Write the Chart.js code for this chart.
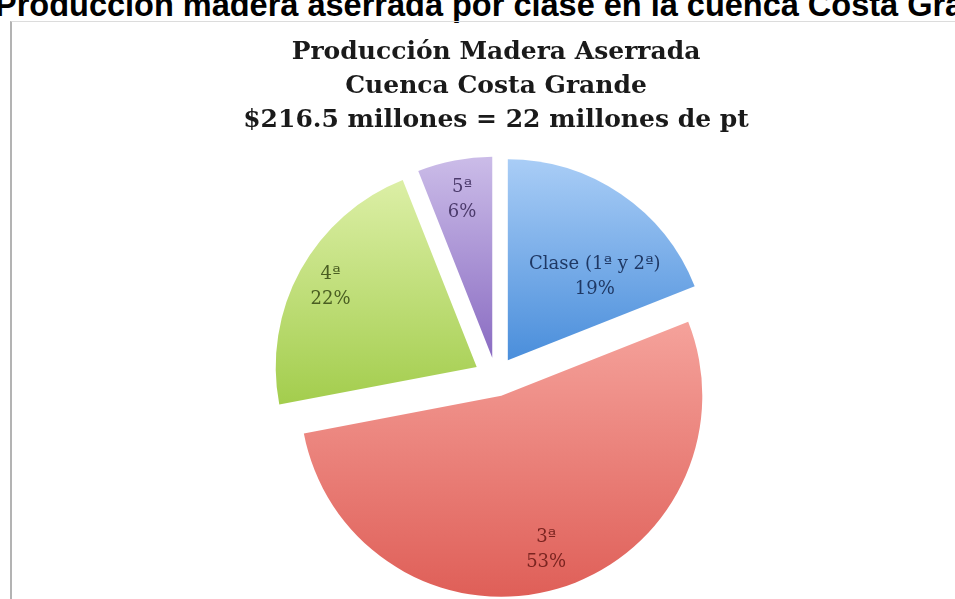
<!DOCTYPE html>
<html lang="es">
<head>
<meta charset="utf-8">
<title>Producción madera aserrada por clase</title>
<script src="https://cdn.jsdelivr.net/npm/chart.js@4.4.1/dist/chart.umd.min.js"></script>
<style>
  html, body { margin: 0; padding: 0; background: #fff; overflow: hidden; width: 955px; height: 599px; }
  .heading {
    position: absolute; left: -5px; top: -11px; margin: 0;
    font: bold 32.5px "Liberation Sans", Arial, sans-serif; line-height: 32px;
    color: #000; white-space: nowrap;
  }
  .frame {
    position: absolute; left: 10px; top: 21px; width: 960px; height: 600px;
    border-left: 2px solid #b3b3b3; border-top: 1px solid #dcdcdc;
  }
  #pieChart { position: absolute; left: 10px; top: 21px; }
</style>
</head>
<body>
<div class="heading">Producción madera aserrada por clase en la cuenca Costa Grande</div>
<div class="frame"></div>
<canvas id="pieChart" width="945" height="620"></canvas>

<script>
/* --- DATA --- */
const categories = ['Clase (1ª y 2ª)', '3ª', '4ª', '5ª'];
const shares = [19, 53, 22, 6];
const titleLines = ['Producción Madera Aserrada', 'Cuenca Costa Grande', '$216.5 millones = 22 millones de pt'];

/* --- STYLE --- */
const topColors = ['#a9cdf6', '#f5a29b', '#dcefa6', '#cbbce8'];
const bottomColors = ['#4a8edb', '#df5f58', '#a3cd4d', '#8a6cc2'];
const labelColors = ['#1f3864', '#7a2420', '#4a5e22', '#4b3a6b'];
const explode = [21, 19, 22, 20];       // px each slice is pulled out
const labelDist = [0.6, 0.8, 0.83, 0.8]; // fraction of radius from slice tip
const labelTurn = [12, 0, 0, 0];        // degrees off the slice bisector

// slice extent (vertical) in the pie's own frame, for the gradient
function sliceSpan(arc) {
  let top = arc.y, bottom = arc.y;
  const steps = 40;
  for (let i = 0; i <= steps; i++) {
    const a = arc.startAngle + (arc.endAngle - arc.startAngle) * i / steps;
    const y = arc.y + Math.sin(a) * arc.outerRadius;
    top = Math.min(top, y); bottom = Math.max(bottom, y);
  }
  return { top, bottom };
}

/* --- PLUGINS --- */
const explodedPie = {
  id: 'explodedPie',
  beforeDatasetDraw(chart, args) {
    const ctx = chart.ctx;
    args.meta.data.forEach((arc, i) => {
      const mid = (arc.startAngle + arc.endAngle) / 2;
      const span = sliceSpan(arc);
      const grad = ctx.createLinearGradient(0, span.top, 0, span.bottom);
      grad.addColorStop(0, topColors[i]);
      grad.addColorStop(1, bottomColors[i]);
      const piece = Object.create(arc);
      piece.options = Object.assign({}, arc.options, { backgroundColor: grad });
      ctx.save();
      ctx.translate(Math.cos(mid) * explode[i], Math.sin(mid) * explode[i]);
      piece.draw(ctx);
      ctx.restore();
    });
    return false;
  },
  afterDraw(chart) {
    const ctx = chart.ctx;
    const meta = chart.getDatasetMeta(0);
    ctx.save();
    ctx.font = '18px "DejaVu Serif", "Liberation Serif", serif';
    ctx.textAlign = 'center';
    ctx.textBaseline = 'middle';
    meta.data.forEach((arc, i) => {
      const mid = (arc.startAngle + arc.endAngle) / 2;
      const tipX = arc.x + Math.cos(mid) * explode[i];
      const tipY = arc.y + Math.sin(mid) * explode[i];
      const a = mid + labelTurn[i] * Math.PI / 180;
      const d = labelDist[i] * arc.outerRadius;
      const x = tipX + Math.cos(a) * d;
      const y = tipY + Math.sin(a) * d;
      ctx.fillStyle = labelColors[i];
      ctx.fillText(categories[i], x, y - 12.5);
      ctx.fillText(shares[i] + '%', x, y + 12.5);
    });
    ctx.restore();
  }
};

/* --- CHART --- */
new Chart(document.getElementById('pieChart'), {
  type: 'pie',
  data: {
    labels: categories,
    datasets: [{
      data: shares,
      backgroundColor: topColors,
      borderWidth: 0,
      radius: 201
    }]
  },
  options: {
    responsive: false,
    animation: false,
    devicePixelRatio: 1,
    layout: { padding: { left: 27, right: 0, top: 0, bottom: 23 } },
    plugins: {
      legend: { display: false },
      tooltip: { enabled: false },
      title: {
        display: true,
        text: titleLines,
        color: '#1a1a1a',
        font: { family: '"DejaVu Serif", "Liberation Serif", serif', size: 25, weight: 'bold', lineHeight: '34px' },
        padding: { top: 14, bottom: 0 }
      }
    }
  },
  plugins: [explodedPie]
});
</script>
</body>
</html>
